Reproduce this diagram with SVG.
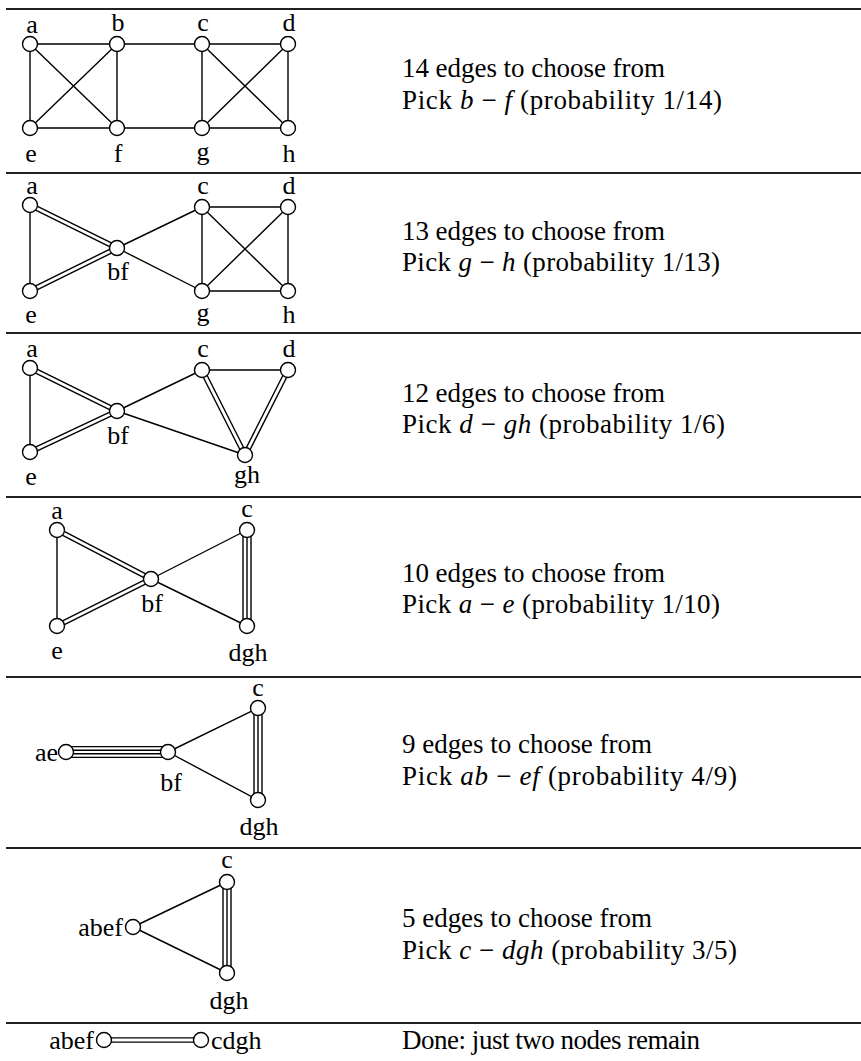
<svg xmlns="http://www.w3.org/2000/svg" width="861" height="1061" viewBox="0 0 861 1061">
<style>
.rule{stroke:#222;stroke-width:1.8}
.e{stroke:#000;stroke-width:1.4;fill:none}
.d1{stroke:#000;stroke-width:5.6;fill:none}
.d2{stroke:#fff;stroke-width:2.8;fill:none}
.t1{stroke:#000;stroke-width:9.4;fill:none}
.t2{stroke:#fff;stroke-width:6.6;fill:none}
.t3{stroke:#000;stroke-width:1.4;fill:none}
.q1{stroke:#000;stroke-width:12.2;fill:none}
.q2{stroke:#fff;stroke-width:9.4;fill:none}
.q3{stroke:#000;stroke-width:5.0;fill:none}
.q4{stroke:#fff;stroke-width:2.2;fill:none}
circle{fill:#fff;stroke:#000;stroke-width:1.4}
text{font-family:"Liberation Serif","Times New Roman",serif;font-size:26px;fill:#000}
.tx{font-size:27px}
.lb{text-anchor:middle}
.lr{text-anchor:end}
.m{font-style:italic}
</style>
<g id="rules">
<line class="rule" x1="6" y1="9" x2="861" y2="9"/>
<line class="rule" x1="6" y1="173" x2="861" y2="173"/>
<line class="rule" x1="6" y1="333" x2="861" y2="333"/>
<line class="rule" x1="6" y1="497" x2="861" y2="497"/>
<line class="rule" x1="6" y1="677" x2="861" y2="677"/>
<line class="rule" x1="6" y1="848" x2="861" y2="848"/>
<line class="rule" x1="6" y1="1023" x2="861" y2="1023"/>
</g>
<g id="connectors">
<path class="e" d="M30 44H117M202 44H288M30 128H117M202 128H288M30 44V128M117 44V128M202 44V128M288 44V128M30 44L117 128M117 44L30 128M202 44L288 128M288 44L202 128M117 44H202M117 128H202"/>
<path class="e" d="M30 205V291M117 248L202 207M117 248L202 291M202 207H288M202 207V291M202 207L288 291M288 207L202 291M288 207V291M202 291H288"/>
<path class="d1" d="M30 205L117 248M30 291L117 248"/>
<path class="d2" d="M30 205L117 248M30 291L117 248"/>
<path class="e" d="M30 368V452M117 411L202 370M117 411L245 455M202 370H288"/>
<path class="d1" d="M30 368L117 411M30 452L117 411M202 370L245 455M288 370L245 455"/>
<path class="d2" d="M30 368L117 411M30 452L117 411M202 370L245 455M288 370L245 455"/>
<path class="e" d="M57 530V626M151 579L247 530M151 579L247 626"/>
<path class="d1" d="M57 530L151 579M57 626L151 579"/>
<path class="d2" d="M57 530L151 579M57 626L151 579"/>
<path class="t1" d="M247 530V626"/>
<path class="t2" d="M247 530V626"/>
<path class="t3" d="M247 530V626"/>
<path class="e" d="M168 752L258 708M168 752L258 800"/>
<path class="q1" d="M70 752H168"/>
<path class="q2" d="M70 752H168"/>
<path class="q3" d="M70 752H168"/>
<path class="q4" d="M70 752H168"/>
<path class="t1" d="M258 708V800"/>
<path class="t2" d="M258 708V800"/>
<path class="t3" d="M258 708V800"/>
<path class="e" d="M133 927L227 882M133 927L227 973"/>
<path class="t1" d="M227 882V973"/>
<path class="t2" d="M227 882V973"/>
<path class="t3" d="M227 882V973"/>
<path class="d1" d="M104 1040H201"/>
<path class="d2" d="M104 1040H201"/>
</g>
<g id="row1">
<g id="r1-a"><circle cx="30" cy="44" r="7.5"/><text class="lb" x="32" y="33">a</text></g>
<g id="r1-b"><circle cx="117" cy="44" r="7.5"/><text class="lb" x="118" y="31">b</text></g>
<g id="r1-c"><circle cx="202" cy="44" r="7.5"/><text class="lb" x="203" y="31">c</text></g>
<g id="r1-d"><circle cx="288" cy="44" r="7.5"/><text class="lb" x="289" y="31">d</text></g>
<g id="r1-e"><circle cx="30" cy="128" r="7.5"/><text class="lb" x="31" y="162">e</text></g>
<g id="r1-f"><circle cx="117" cy="128" r="7.5"/><text class="lb" x="118" y="162">f</text></g>
<g id="r1-g"><circle cx="202" cy="128" r="7.5"/><text class="lb" x="203" y="160">g</text></g>
<g id="r1-h"><circle cx="288" cy="128" r="7.5"/><text class="lb" x="289" y="162">h</text></g>
<text class="tx" x="402" y="77" textLength="263" lengthAdjust="spacing">14 edges to choose from</text>
<text class="tx" x="402" y="109" textLength="320" lengthAdjust="spacing">Pick <tspan class="m">b</tspan> − <tspan class="m">f</tspan> (probability 1/14)</text>
</g>
<g id="row2">
<g id="r2-a"><circle cx="30" cy="205" r="7.5"/><text class="lb" x="32" y="194">a</text></g>
<g id="r2-bf"><circle cx="117" cy="248" r="7.5"/><text class="lb" x="118" y="280">bf</text></g>
<g id="r2-c"><circle cx="202" cy="207" r="7.5"/><text class="lb" x="203" y="194">c</text></g>
<g id="r2-d"><circle cx="288" cy="207" r="7.5"/><text class="lb" x="289" y="194">d</text></g>
<g id="r2-e"><circle cx="30" cy="291" r="7.5"/><text class="lb" x="31" y="323">e</text></g>
<g id="r2-g"><circle cx="202" cy="291" r="7.5"/><text class="lb" x="203" y="321">g</text></g>
<g id="r2-h"><circle cx="288" cy="291" r="7.5"/><text class="lb" x="289" y="323">h</text></g>
<text class="tx" x="402" y="240" textLength="263" lengthAdjust="spacing">13 edges to choose from</text>
<text class="tx" x="402" y="271" textLength="318" lengthAdjust="spacing">Pick <tspan class="m">g</tspan> − <tspan class="m">h</tspan> (probability 1/13)</text>
</g>
<g id="row3">
<g id="r3-a"><circle cx="30" cy="368" r="7.5"/><text class="lb" x="32" y="357">a</text></g>
<g id="r3-bf"><circle cx="117" cy="411" r="7.5"/><text class="lb" x="118" y="444">bf</text></g>
<g id="r3-c"><circle cx="202" cy="370" r="7.5"/><text class="lb" x="203" y="357">c</text></g>
<g id="r3-d"><circle cx="288" cy="370" r="7.5"/><text class="lb" x="289" y="357">d</text></g>
<g id="r3-e"><circle cx="30" cy="452" r="7.5"/><text class="lb" x="31" y="485">e</text></g>
<g id="r3-gh"><circle cx="245" cy="455" r="7.5"/><text class="lb" x="247" y="483">gh</text></g>
<text class="tx" x="402" y="402" textLength="263" lengthAdjust="spacing">12 edges to choose from</text>
<text class="tx" x="402" y="433" textLength="323" lengthAdjust="spacing">Pick <tspan class="m">d</tspan> − <tspan class="m">gh</tspan> (probability 1/6)</text>
</g>
<g id="row4">
<g id="r4-a"><circle cx="57" cy="530" r="7.5"/><text class="lb" x="57" y="519">a</text></g>
<g id="r4-bf"><circle cx="151" cy="579" r="7.5"/><text class="lb" x="152" y="612">bf</text></g>
<g id="r4-c"><circle cx="247" cy="530" r="7.5"/><text class="lb" x="247" y="517">c</text></g>
<g id="r4-e"><circle cx="57" cy="626" r="7.5"/><text class="lb" x="57" y="659">e</text></g>
<g id="r4-dgh"><circle cx="247" cy="626" r="7.5"/><text class="lb" x="248" y="661">dgh</text></g>
<text class="tx" x="402" y="582" textLength="263" lengthAdjust="spacing">10 edges to choose from</text>
<text class="tx" x="402" y="613" textLength="318" lengthAdjust="spacing">Pick <tspan class="m">a</tspan> − <tspan class="m">e</tspan> (probability 1/10)</text>
</g>
<g id="row5">
<g id="r5-ae"><circle cx="66" cy="752" r="7.5"/><text class="lr" x="58" y="761">ae</text></g>
<g id="r5-bf"><circle cx="168" cy="752" r="7.5"/><text class="lb" x="171" y="791">bf</text></g>
<g id="r5-c"><circle cx="258" cy="708" r="7.5"/><text class="lb" x="258" y="696">c</text></g>
<g id="r5-dgh"><circle cx="258" cy="800" r="7.5"/><text class="lb" x="259" y="835">dgh</text></g>
<text class="tx" x="402" y="753" textLength="250" lengthAdjust="spacing">9 edges to choose from</text>
<text class="tx" x="402" y="785" textLength="335" lengthAdjust="spacing">Pick <tspan class="m">ab</tspan> − <tspan class="m">ef</tspan> (probability 4/9)</text>
</g>
<g id="row6">
<g id="r6-abef"><circle cx="133" cy="927" r="7.5"/><text class="lr" x="123" y="936">abef</text></g>
<g id="r6-c"><circle cx="227" cy="882" r="7.5"/><text class="lb" x="227" y="868">c</text></g>
<g id="r6-dgh"><circle cx="227" cy="973" r="7.5"/><text class="lb" x="229" y="1009">dgh</text></g>
<text class="tx" x="402" y="927" textLength="250" lengthAdjust="spacing">5 edges to choose from</text>
<text class="tx" x="402" y="959" textLength="335" lengthAdjust="spacing">Pick <tspan class="m">c</tspan> − <tspan class="m">dgh</tspan> (probability 3/5)</text>
</g>
<g id="row7">
<g id="r7-abef"><circle cx="104" cy="1040" r="7.5"/><text class="lr" x="94" y="1049">abef</text></g>
<g id="r7-cdgh"><circle cx="201" cy="1040" r="7.5"/><text x="211" y="1049">cdgh</text></g>
<text class="tx" x="402" y="1049" textLength="298" lengthAdjust="spacing">Done: just two nodes remain</text>
</g>
</svg>
